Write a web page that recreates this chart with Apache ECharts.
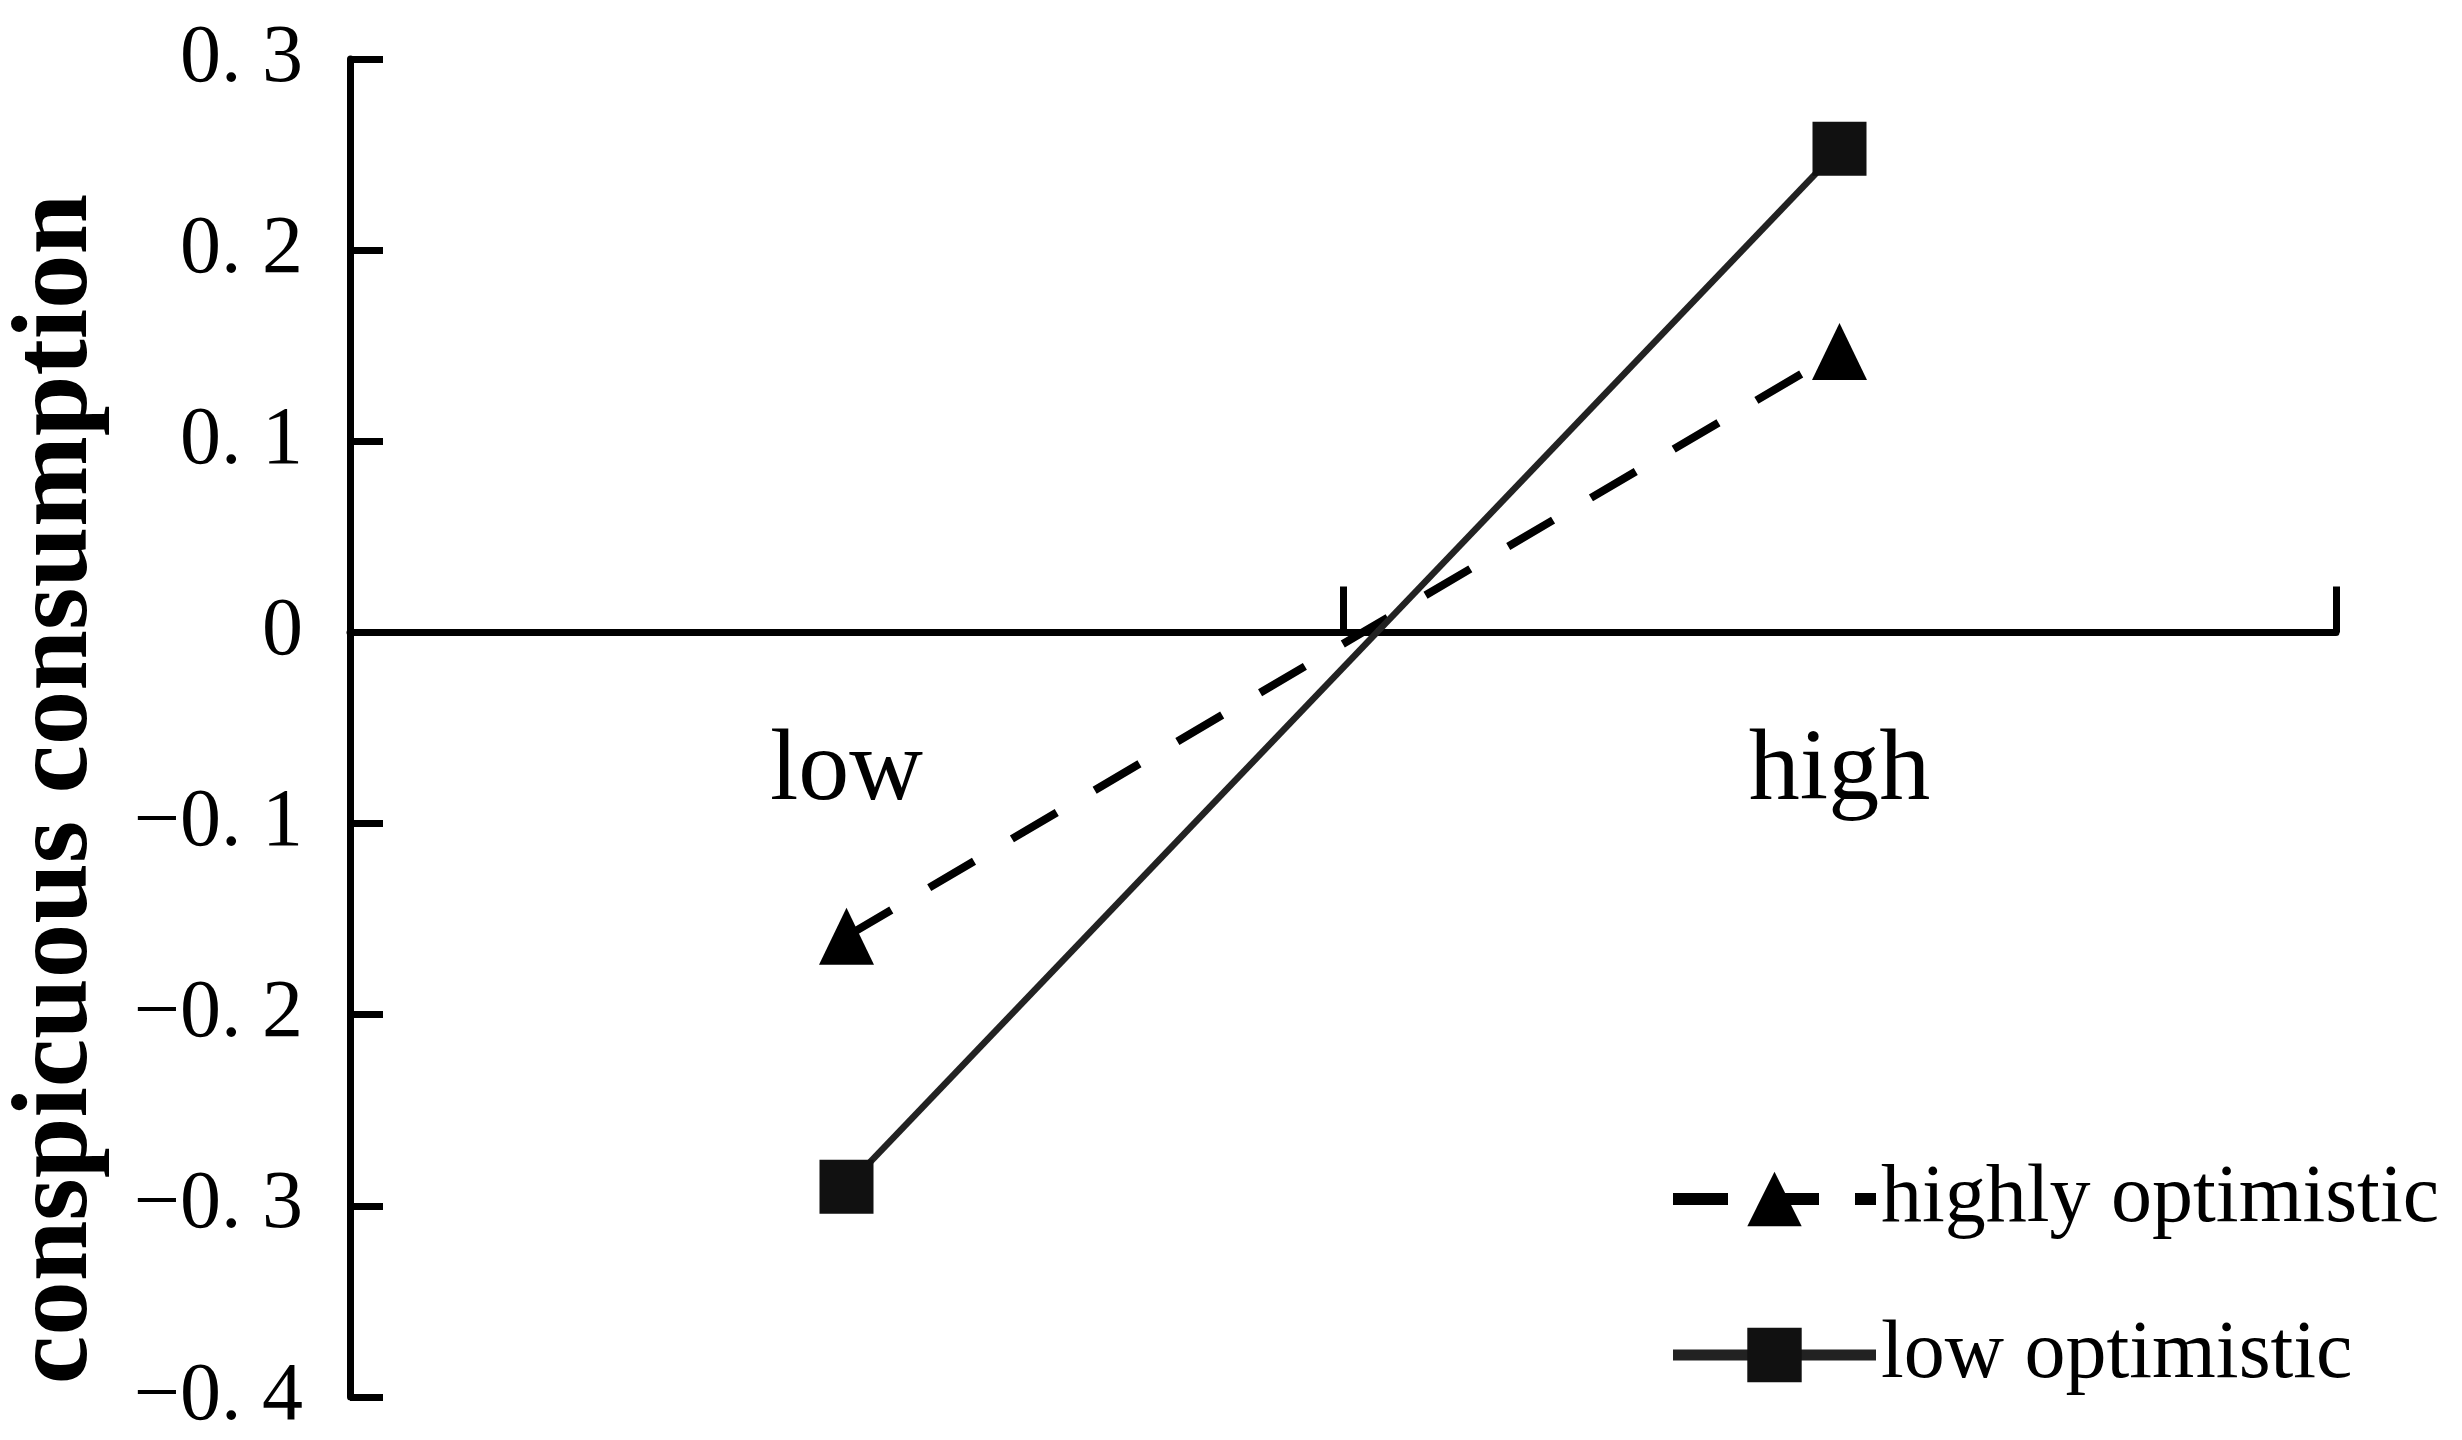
<!DOCTYPE html>
<html>
<head>
<meta charset="utf-8">
<script src="https://cdn.jsdelivr.net/npm/echarts@6/dist/echarts.min.js"></script>
<style>
html,body{margin:0;padding:0;background:#fff;}
#chart{width:2462px;height:1440px;}
</style>
</head>
<body>
<div id="chart"></div>
<script>
const categories = ['low', 'high'];
const highlyOptimistic = [-0.159, 0.147];
const lowOptimistic = [-0.29, 0.253];
const yTickLabels = ['\u22120. 4', '\u22120. 3', '\u22120. 2', '\u22120. 1', '0', '0. 1', '0. 2', '0. 3'];
const seriesNames = ['highly optimistic', 'low optimistic'];
const yTitle = 'conspicuous consumption';

const chart = echarts.init(document.getElementById('chart'), null, {renderer: 'canvas'});
const serif = '"Liberation Serif", "Times New Roman", serif';
const dashPattern = [52, 44];
chart.setOption({
  animation: false,
  backgroundColor: '#ffffff',
  grid: {left: 350, right: 126, top: 59, bottom: 43, containLabel: false, outerBoundsMode: 'none'},
  legend: {
    orient: 'vertical',
    left: 1662,
    top: 1153,
    itemWidth: 203,
    itemHeight: 68,
    itemGap: 74,
    textStyle: {fontSize: 82, fontFamily: serif, color: '#000'},
    lineStyle: {width: 12},
    data: [
      {name: seriesNames[0], lineStyle: {width: 12, type: [55, 36], color: '#000'}},
      {name: seriesNames[1], lineStyle: {width: 11, type: 'solid', color: '#222'}}
    ]
  },
  xAxis: [
    {
      type: 'category',
      data: categories,
      position: 'bottom',
      boundaryGap: true,
      axisLine: {show: true, onZero: true, lineStyle: {color: '#000', width: 7}},
      axisTick: {show: true, inside: true, length: 46, lineStyle: {color: '#000', width: 7}},
      axisLabel: {show: false},
      splitLine: {show: false}
    },
    {
      type: 'category',
      data: categories,
      position: 'top',
      offset: -575,
      boundaryGap: true,
      axisLine: {show: false, onZero: false},
      axisTick: {show: false},
      axisLabel: {show: true, inside: true, fontSize: 102, fontFamily: serif, color: '#000', margin: 87},
      splitLine: {show: false}
    }
  ],
  yAxis: {
    type: 'value',
    min: -0.4,
    max: 0.3,
    interval: 0.1,
    name: yTitle,
    nameLocation: 'middle',
    nameGap: 238,
    nameRotate: 90,
    nameTextStyle: {fontSize: 109, fontWeight: 'bold', fontFamily: serif, color: '#000', padding: [0, 122, 0, 0]},
    axisLine: {show: true, onZero: false, lineStyle: {color: '#000', width: 7}},
    axisTick: {show: true, inside: true, length: 33, lineStyle: {color: '#000', width: 7}},
    axisLabel: {
      fontSize: 82, fontFamily: serif, color: '#000', margin: 47,
      formatter: function (v, i) { return yTickLabels[i]; }
    },
    splitLine: {show: false}
  },
  series: [
    {
      name: seriesNames[0],
      type: 'line',
      data: highlyOptimistic,
      symbol: 'triangle',
      symbolSize: [55, 57],
      z: 2,
      lineStyle: {color: '#000', width: 8, type: dashPattern},
      itemStyle: {color: '#000'}
    },
    {
      name: seriesNames[1],
      type: 'line',
      data: lowOptimistic,
      symbol: 'rect',
      symbolSize: 54,
      z: 3,
      lineStyle: {color: '#222', width: 6.5, type: 'solid'},
      itemStyle: {color: '#111'}
    }
  ]
});
</script>
</body>
</html>
